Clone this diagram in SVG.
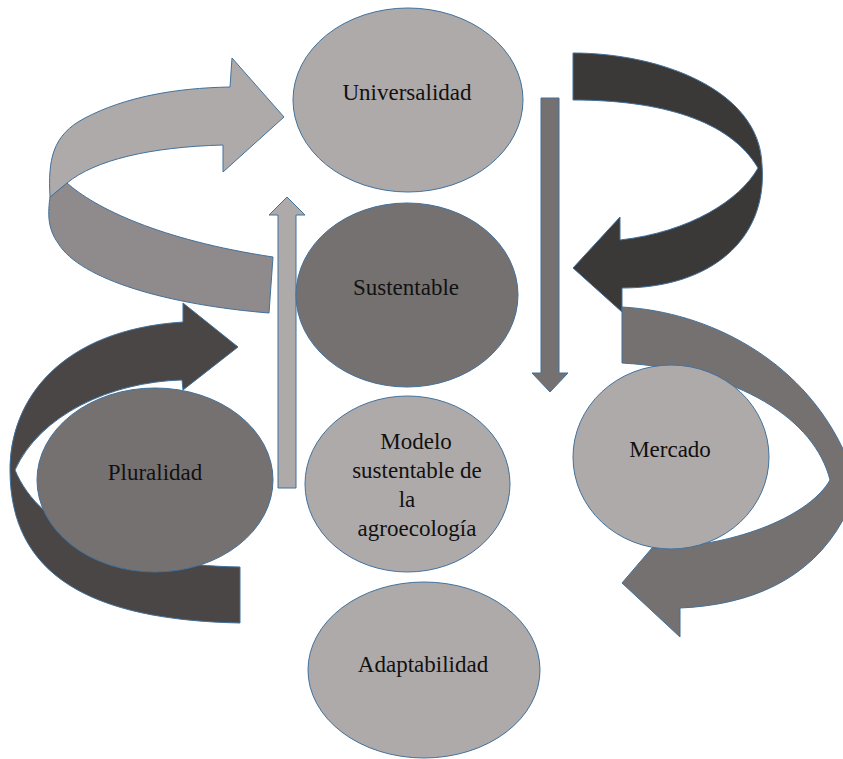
<svg xmlns="http://www.w3.org/2000/svg" width="843" height="759" viewBox="0 0 843 759">
<style>
.s{stroke:#41719C;stroke-width:1;stroke-linejoin:miter}
.light{fill:#AEAAAA}
.mid{fill:#767171}
.dark{fill:#3B3838}
.t{font-family:"Liberation Serif","Times New Roman",serif;font-size:23px;fill:#111;text-anchor:middle}
</style>
<rect width="843" height="759" fill="#ffffff"/>
<g id="connectors">
<g id="arrow-top-left">
<path class="s" fill="#8F8A8B" d="M67,183 C 95,208 160,240 273,257 L269,313 C 170,305 80,280 58,243 C 47,228 48,212 50,197 Z"/>
<path class="s light" d="M230,87 L232,58 L284,117 L223,172 L223,145 C 150,147 95,160 67,183 L50,197 C 48,160 52,135 85,118 C 125,97 175,88 230,87 Z"/>
</g>
<path id="arrow-top-right" class="s dark" d="M573,53 C 660,53 760,90 762,165 C 768,240 710,288 622,288 L622,312 L573,268 L620,217 L620,240 C 690,232 740,200 758,168 C 730,120 660,100 573,100 Z"/>
<path id="arrow-bottom-left" class="s" fill="#4A4646" d="M183,322 L183,303 L238,347 L183,390 L182,380 C 110,382 40,415 15,470 C 40,530 120,565 240,567 L240,623 C 90,620 10,575 10,470 C 10,400 60,330 183,322 Z"/>
<path id="arrow-bottom-right" class="s mid" d="M622,307 C 710,312 800,360 842,447 C 860,480 860,500 843,520 C 810,580 750,605 680,608 L680,637 L622,583 L652,548 L660,548 C 740,545 810,515 830,480 C 815,420 740,370 622,363 Z"/>
<path id="arrow-up" class="s light" d="M278,488 L278,215 L269,215 L287,197 L305,215 L296,215 L296,488 Z"/>
<path id="arrow-down" class="s mid" d="M541,98 L559,98 L559,373 L568,373 L550,392 L532,373 L541,373 Z"/>
</g>
<g id="universalidad">
<ellipse class="s light" cx="408" cy="100" rx="115" ry="92"/>
<text class="t" x="407" y="100">Universalidad</text>
</g>
<g id="sustentable">
<ellipse class="s mid" cx="407" cy="295" rx="111" ry="92"/>
<text class="t" x="406" y="295">Sustentable</text>
</g>
<g id="modelo">
<ellipse class="s light" cx="407.5" cy="484" rx="102.5" ry="88"/>
<text class="t" x="416" y="449">Modelo</text>
<text class="t" x="417" y="478">sustentable de</text>
<text class="t" x="407" y="507">la</text>
<text class="t" x="417" y="536">agroecología</text>
</g>
<g id="adaptabilidad">
<ellipse class="s light" cx="424" cy="670" rx="116" ry="88"/>
<text class="t" x="423" y="672">Adaptabilidad</text>
</g>
<g id="pluralidad">
<ellipse class="s mid" cx="155" cy="480" rx="118" ry="92"/>
<text class="t" x="155" y="480">Pluralidad</text>
</g>
<g id="mercado">
<ellipse class="s light" cx="671" cy="457" rx="98" ry="92"/>
<text class="t" x="670" y="457">Mercado</text>
</g>
</svg>
